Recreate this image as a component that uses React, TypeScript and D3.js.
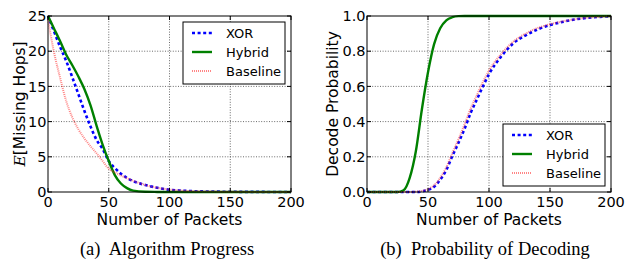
import React from "react";
import * as d3 from "d3";

// (a) expected missing hops vs packets
const packetsA = [0, 5, 10, 15, 20, 25, 30, 35, 40, 45, 50, 55, 60, 65, 70, 80, 90, 100, 110, 120, 140, 160, 180, 200];
const xorHops = [25, 22.8, 20.6, 18.6, 16.3, 13.9, 11.5, 9.3, 7.4, 6.1, 4.4, 3.4, 2.6, 2.0, 1.55, 1.0, 0.6, 0.32, 0.2, 0.12, 0.05, 0.02, 0.01, 0];
const hybridHops = [25, 23.2, 21.4, 19.5, 18.0, 16.4, 14.6, 12.3, 9.4, 6.7, 4.4, 2.4, 1.2, 0.55, 0.2, 0.03, 0.01, 0, 0, 0, 0, 0, 0, 0];
const baselineHops = [24.5, 19.8, 16.2, 12.9, 10.6, 8.9, 7.6, 6.5, 5.5, 4.4, 3.3, 2.8, 2.35, 1.95, 1.6, 1.0, 0.6, 0.35, 0.2, 0.12, 0.05, 0.02, 0.01, 0];

// (b) probability of decoding vs packets
const packetsB = [0, 10, 20, 25, 30, 35, 40, 45, 50, 55, 60, 65, 70, 75, 80, 85, 90, 95, 100, 110, 120, 130, 140, 150, 160, 170, 180, 190, 200];
const xorProb = [0, 0, 0, 0, 0, 0, 0, 0.003, 0.012, 0.03, 0.07, 0.125, 0.205, 0.28, 0.36, 0.45, 0.525, 0.6, 0.67, 0.77, 0.845, 0.89, 0.924, 0.949, 0.966, 0.98, 0.989, 0.995, 0.998];
const hybridProb = [0, 0, 0, 0, 0.01, 0.08, 0.23, 0.47, 0.68, 0.84, 0.93, 0.975, 0.993, 0.999, 1, 1, 1, 1, 1, 1, 1, 1, 1, 1, 1, 1, 1, 1, 1];
const baselineProb = [0, 0, 0, 0, 0, 0, 0.002, 0.006, 0.016, 0.038, 0.08, 0.14, 0.222, 0.3, 0.385, 0.475, 0.55, 0.625, 0.69, 0.785, 0.855, 0.9, 0.932, 0.953, 0.969, 0.981, 0.99, 0.995, 0.998];

const xTicks = [0, 50, 100, 150, 200];
const hopTicks = [0, 5, 10, 15, 20, 25];
const probTicks = [0, 0.2, 0.4, 0.6, 0.8, 1.0];
const seriesNames = ["XOR", "Hybrid", "Baseline"];

const styles = [
  { stroke: "#0000ff", width: 2.6, dash: "3,2.6", opacity: 1 },
  { stroke: "#008000", width: 2.4, dash: null, opacity: 1 },
  { stroke: "#ff3333", width: 2, dash: "1,1", opacity: 0.6 },
];

const sans = "'DejaVu Sans', sans-serif";

type PanelProps = {
  left: number;
  right: number;
  top: number;
  bottom: number;
  xs: number[];
  series: number[][];
  yMax: number;
  yTicks: number[];
  yFmt: (v: number) => string;
  yLabel: React.ReactNode;
  yLabelX: number;
  legendCorner: "top" | "bottom";
};

const Panel = ({ left, right, top, bottom, xs, series, yMax, yTicks, yFmt, yLabel, yLabelX, legendCorner }: PanelProps) => {
  const x = d3.scaleLinear().domain([0, 200]).range([left, right]);
  const y = d3.scaleLinear().domain([0, yMax]).range([bottom, top]);
  const line = d3
    .line<number>()
    .x((_, i) => x(xs[i]))
    .y((d) => y(d))
    .curve(d3.curveMonotoneX);

  const lw = 102, lh = 62;
  const lx = right - 6 - lw;
  const ly = legendCorner === "top" ? top + 6 : bottom - 6 - lh;
  const tickLen = 4;
  const midY = (top + bottom) / 2;

  return (
    <g>
      {/* grid */}
      {xTicks.slice(1, -1).map((t) => (
        <line key={"gx" + t} x1={x(t)} x2={x(t)} y1={top} y2={bottom} stroke="#444" strokeWidth={0.8} strokeDasharray="1,1.6" />
      ))}
      {yTicks.slice(1, -1).map((t) => (
        <line key={"gy" + t} x1={left} x2={right} y1={y(t)} y2={y(t)} stroke="#444" strokeWidth={0.8} strokeDasharray="1,1.6" />
      ))}

      {/* series */}
      {series.map((s, i) => (
        <path
          key={i}
          d={line(s) ?? ""}
          fill="none"
          stroke={styles[i].stroke}
          strokeWidth={styles[i].width}
          strokeDasharray={styles[i].dash ?? undefined}
          strokeOpacity={styles[i].opacity}
        />
      ))}

      {/* frame + ticks */}
      <rect x={left} y={top} width={right - left} height={bottom - top} fill="none" stroke="#000" strokeWidth={1} />
      {xTicks.map((t) => (
        <g key={"tx" + t}>
          <line x1={x(t)} x2={x(t)} y1={bottom} y2={bottom - tickLen} stroke="#000" />
          <line x1={x(t)} x2={x(t)} y1={top} y2={top + tickLen} stroke="#000" />
          <text x={x(t)} y={207} textAnchor="middle" fontSize={14.5} fontFamily={sans}>
            {t}
          </text>
        </g>
      ))}
      {yTicks.map((t) => (
        <g key={"ty" + t}>
          <line x1={left} x2={left + tickLen} y1={y(t)} y2={y(t)} stroke="#000" />
          <line x1={right} x2={right - tickLen} y1={y(t)} y2={y(t)} stroke="#000" />
          <text x={left - 1.5} y={y(t)} dy="0.36em" textAnchor="end" fontSize={14.5} fontFamily={sans}>
            {yFmt(t)}
          </text>
        </g>
      ))}

      {/* axis labels */}
      <text x={(left + right) / 2} y={225} textAnchor="middle" fontSize={15.5} fontFamily={sans}>
        Number of Packets
      </text>
      <text transform={`translate(${yLabelX},${midY}) rotate(-90)`} textAnchor="middle" fontSize={15.5} fontFamily={sans}>
        {yLabel}
      </text>

      {/* legend */}
      <rect x={lx} y={ly} width={lw} height={lh} fill="#fff" stroke="#000" strokeWidth={1} />
      {seriesNames.map((name, i) => {
        const ry = ly + 11 + i * 19;
        return (
          <g key={name}>
            <line
              x1={lx + 9}
              x2={lx + 29}
              y1={ry}
              y2={ry}
              stroke={styles[i].stroke}
              strokeWidth={styles[i].width}
              strokeDasharray={styles[i].dash ?? undefined}
              strokeOpacity={styles[i].opacity}
            />
            <text x={lx + 43} y={ry} dy="0.36em" fontSize={13} fontFamily={sans}>
              {name}
            </text>
          </g>
        );
      })}
    </g>
  );
};

export default function App() {
  return (
    <svg width={626} height={261} style={{ position: "absolute", left: 0, top: 0, background: "#fff" }}>
      <Panel
        left={48}
        right={291}
        top={16}
        bottom={192}
        xs={packetsA}
        series={[xorHops, hybridHops, baselineHops]}
        yMax={25}
        yTicks={hopTicks}
        yFmt={(v) => String(v)}
        yLabel={
          <>
            <tspan fontFamily="'DejaVu Serif', serif" fontStyle="italic">E</tspan>
            <tspan>[Missing Hops]</tspan>
          </>
        }
        yLabelX={25}
        legendCorner="top"
      />
      <Panel
        left={367}
        right={611}
        top={16}
        bottom={192}
        xs={packetsB}
        series={[xorProb, hybridProb, baselineProb]}
        yMax={1}
        yTicks={probTicks}
        yFmt={(v) => v.toFixed(1)}
        yLabel="Decode Probability"
        yLabelX={338}
        legendCorner="bottom"
      />
      <text x={167} y={255} textAnchor="middle" fontSize={18.5} fontFamily="'Liberation Serif', serif">
        (a)&#160; Algorithm Progress
      </text>
      <text x={485} y={255} textAnchor="middle" fontSize={18.5} fontFamily="'Liberation Serif', serif">
        (b)&#160; Probability of Decoding
      </text>
    </svg>
  );
}
